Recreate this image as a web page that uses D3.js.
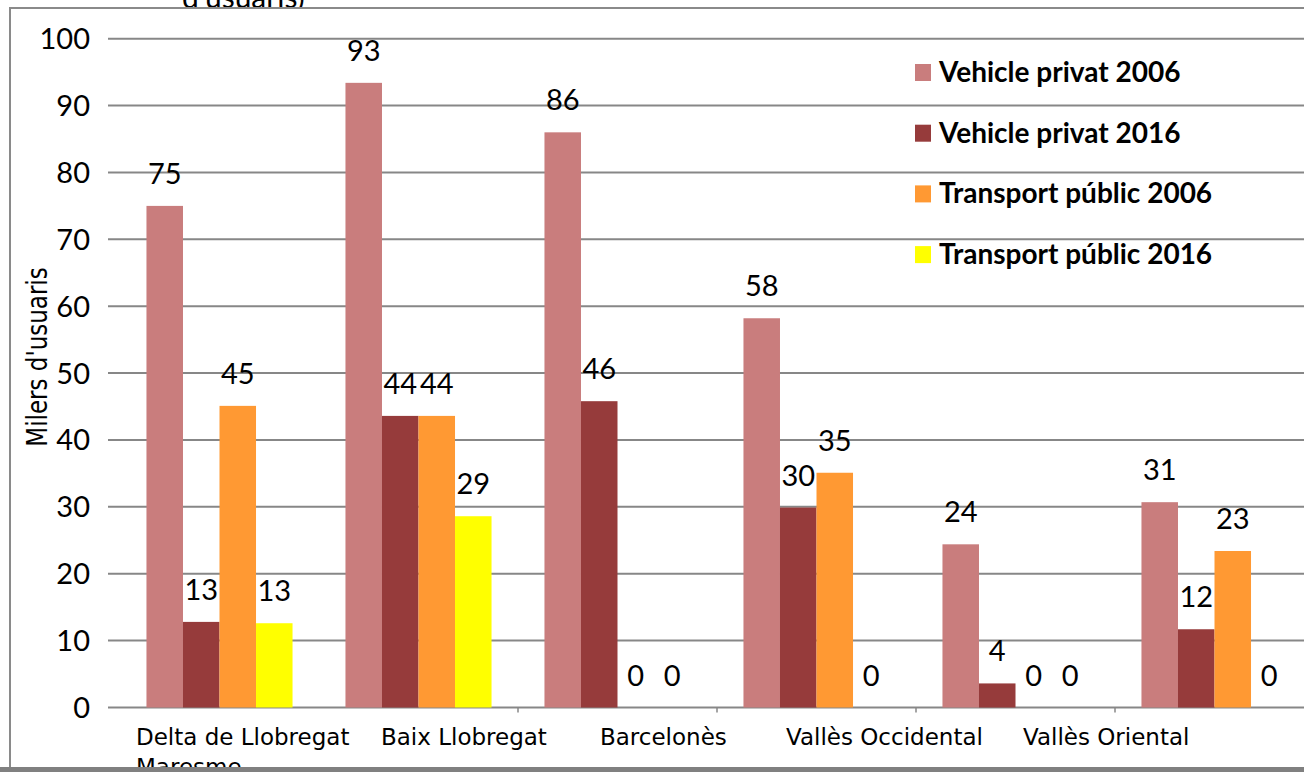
<!DOCTYPE html>
<html>
<head>
<meta charset="utf-8">
<script src="https://cdn.jsdelivr.net/npm/d3@7"></script>
<style>
  body { margin: 0; background: #fff; }
  svg { display: block; }
</style>
</head>
<body>
<div class="canvas"></div>
<script>
// data
const categories = ['Delta de Llobregat', 'Baix Llobregat', 'Barcelonès', 'Vallès Occidental', 'Vallès Oriental', 'Maresme'];
const seriesNames = ['Vehicle privat 2006', 'Vehicle privat 2016', 'Transport públic 2006', 'Transport públic 2016'];
const vehiclePrivat2006 = [75, 93.4, 86, 58.2, 24.4, 30.7];
const vehiclePrivat2016 = [12.8, 43.6, 45.8, 29.9, 3.6, 11.7];
const transportPublic2006 = [45.1, 43.6, 0, 35.1, 0, 23.4];
const transportPublic2016 = [12.6, 28.6, 0, 0, 0, 0];
const yTicks = [0, 10, 20, 30, 40, 50, 60, 70, 80, 90, 100];
const yTitle = "Milers d'usuaris";
const topTitle = "d'usuaris)";

// layout
const width = 1304, height = 772;
const colors = ['#C97D7D', '#963B3B', '#FF9933', '#FFFF00'];
// where the category labels sit in the original (they don't line up with the groups)
const labelSpots = [
  {x: 136, row: 0}, {x: 381, row: 0}, {x: 600, row: 0},
  {x: 786, row: 0}, {x: 1023, row: 0}, {x: 136, row: 1}
];
const numFont = 'Lato, "Open Sans", sans-serif';
const txtFont = '"DejaVu Sans", Verdana, sans-serif';

const svg = d3.select('.canvas')
  .append('svg')
  .attr('width', width)
  .attr('height', height);

// cut off title line above the chart frame
svg.append('text')
  .attr('x', 182)
  .attr('y', 8)
  .attr('font-family', numFont)
  .attr('font-size', 30)
  .text(topTitle);

// chart frame
svg.append('rect')
  .attr('x', 10).attr('y', 8)
  .attr('width', 1400).attr('height', 760)
  .attr('fill', '#fff')
  .attr('stroke', '#8a8a8a')
  .attr('stroke-width', 2);

const y = d3.scaleLinear()
  .domain([0, 100])
  .range([707.5, 38.7]);

const x0 = d3.scaleBand()
  .domain(categories)
  .range([120, 1314])
  .paddingInner(0.266)
  .paddingOuter(0.133);

const x1 = d3.scaleBand()
  .domain(seriesNames)
  .range([0, x0.bandwidth()]);

// gridlines
svg.append('g').selectAll('line')
  .data(yTicks)
  .enter().append('line')
  .attr('x1', 108).attr('x2', width)
  .attr('y1', d => y(d)).attr('y2', d => y(d))
  .attr('stroke', '#878787')
  .attr('stroke-width', 2);

// y tick labels
svg.append('g').selectAll('text')
  .data(yTicks)
  .enter().append('text')
  .attr('x', 90)
  .attr('y', d => y(d))
  .attr('dy', '0.36em')
  .attr('text-anchor', 'end')
  .attr('font-family', numFont)
  .attr('font-size', 29)
  .attr('fill', '#000')
  .text(d => d);

// x tick marks between groups
const bounds = categories.slice(2).map(c => x0(c) - x0.step() * 0.133);
svg.append('g').selectAll('line')
  .data(bounds)
  .enter().append('line')
  .attr('x1', d => d).attr('x2', d => d)
  .attr('y1', y(0)).attr('y2', y(0) + 5)
  .attr('stroke', '#878787')
  .attr('stroke-width', 1.5);

// bars
const table = categories.map((c, i) => ({
  cat: c,
  vals: [vehiclePrivat2006[i], vehiclePrivat2016[i], transportPublic2006[i], transportPublic2016[i]]
}));

const groups = svg.append('g').selectAll('g')
  .data(table)
  .enter().append('g')
  .attr('transform', d => 'translate(' + x0(d.cat) + ',0)');

groups.selectAll('rect')
  .data(d => d.vals.map((v, j) => ({name: seriesNames[j], v: v, j: j})))
  .enter().append('rect')
  .attr('x', d => x1(d.name))
  .attr('width', x1.bandwidth())
  .attr('y', d => y(d.v))
  .attr('height', d => y(0) - y(d.v))
  .attr('fill', d => colors[d.j]);

groups.selectAll('text')
  .data(d => d.vals.map((v, j) => ({name: seriesNames[j], v: v})))
  .enter().append('text')
  .attr('x', d => x1(d.name) + x1.bandwidth() / 2)
  .attr('y', d => y(d.v) - 22)
  .attr('text-anchor', 'middle')
  .attr('font-family', numFont)
  .attr('font-size', 29)
  .text(d => d3.format('.0f')(d.v));

// category labels
svg.append('g').selectAll('text')
  .data(categories)
  .enter().append('text')
  .attr('x', (d, i) => labelSpots[i].x)
  .attr('y', (d, i) => 745 + labelSpots[i].row * 30)
  .attr('font-family', txtFont)
  .attr('font-size', 23)
  .text(d => d);

// y axis title (glyphs a bit taller than wide, like the original)
svg.append('text')
  .attr('transform', 'translate(47,357) rotate(-90) scale(1,1.25)')
  .attr('text-anchor', 'middle')
  .attr('font-family', txtFont)
  .attr('font-size', 23)
  .text(yTitle);

// legend
const legend = svg.append('g').selectAll('g')
  .data(seriesNames)
  .enter().append('g')
  .attr('transform', (d, i) => 'translate(915,' + (73 + i * 60.7) + ')');

legend.append('rect')
  .attr('x', 0).attr('y', -9)
  .attr('width', 16).attr('height', 17)
  .attr('fill', (d, i) => colors[i]);

legend.append('text')
  .attr('x', 24)
  .attr('y', 9)
  .attr('font-family', numFont)
  .attr('font-weight', 'bold')
  .attr('font-size', 28)
  .text(d => d);

// shadow line along the bottom
svg.append('rect')
  .attr('x', 0).attr('y', 767)
  .attr('width', width).attr('height', 5)
  .attr('fill', '#808080');
</script>
</body>
</html>
